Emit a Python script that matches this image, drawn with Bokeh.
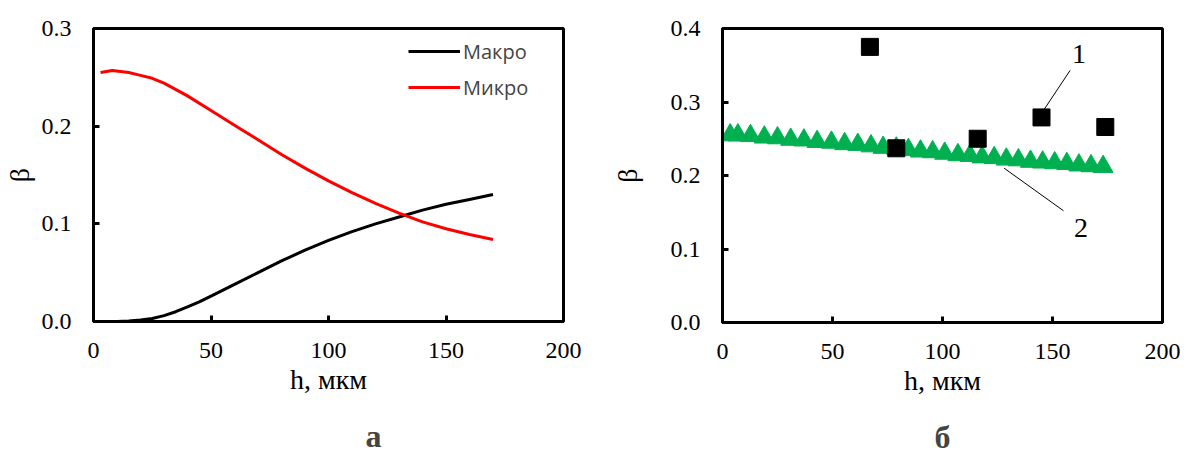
from bokeh.plotting import figure
from bokeh.models import Range1d, BasicTicker, PrintfTickFormatter, Legend, LegendItem, Title
from bokeh.core.properties import value
from bokeh.embed import file_html
from bokeh.resources import INLINE

# ---- panel a data ----
makro_x = [3, 10, 15, 20, 25, 30, 35, 40, 45, 50, 60, 70, 80, 90, 100, 110, 120, 130, 140, 150, 160, 170]
makro_y = [0, 0, 0.0005, 0.0015, 0.003, 0.006, 0.010, 0.015, 0.020, 0.026, 0.038, 0.050, 0.062, 0.073,
           0.083, 0.092, 0.100, 0.107, 0.114, 0.120, 0.125, 0.130]
mikro_x = [3, 8, 15, 20, 25, 30, 40, 50, 60, 70, 80, 90, 100, 110, 120, 130, 140, 150, 160, 170]
mikro_y = [0.255, 0.257, 0.255, 0.252, 0.249, 0.244, 0.231, 0.216, 0.201, 0.186, 0.171, 0.157, 0.144,
           0.132, 0.121, 0.111, 0.102, 0.095, 0.089, 0.084]

# ---- panel b data ----
exp_x = [67, 79, 116, 145, 174]
exp_y = [0.375, 0.237, 0.250, 0.279, 0.266]
calc_x = [3.5, 7, 12.7, 19, 25, 31, 37, 43, 49.5, 55.5, 61.5, 67.5, 73, 79, 84.5, 90, 95.5, 101, 107, 112.5,
          118, 123.5, 129, 134.5, 140, 145.5, 151, 156.5, 162, 167.5, 173]
calc_y = [0.255, 0.255, 0.254, 0.252, 0.251, 0.249, 0.248, 0.246, 0.245, 0.243, 0.242, 0.240, 0.238, 0.237,
          0.235, 0.233, 0.232, 0.230, 0.228, 0.227, 0.225, 0.224, 0.222, 0.221, 0.219, 0.218, 0.217, 0.216,
          0.214, 0.213, 0.212]

# axis extents and tick settings
x_max = 200
ya_max = 0.3
yb_max = 0.4
tick_count = 4
y_tick_format = "%.1f"

# leader lines and labels for panel b
lead_x0 = [158, 128]
lead_y0 = [0.343, 0.210]
lead_x1 = [146, 155]
lead_y1 = [0.289, 0.152]
lead_text = ["1", "2"]
lead_tx = [162, 163]
lead_ty = [0.365, 0.128]

SERIF = "Liberation Serif"
EPS = 1e-6


def make(ymax, ylab_standoff, **kw):
    p = figure(x_range=Range1d(0, x_max), y_range=Range1d(0, ymax + EPS),
               output_backend="svg", toolbar_location=None, **kw)
    p.grid.visible = False
    p.outline_line_color = "black"
    p.outline_line_width = 3
    p.xaxis.ticker = BasicTicker(desired_num_ticks=tick_count)
    p.yaxis.ticker = BasicTicker(desired_num_ticks=tick_count)
    p.yaxis.formatter = PrintfTickFormatter(format=y_tick_format)
    p.axis.axis_line_width = 3
    p.axis.axis_line_color = "black"
    p.axis.major_tick_in = 6
    p.axis.major_tick_out = 0
    p.axis.major_tick_line_width = 3
    p.axis.minor_tick_line_color = None
    p.axis.major_label_text_font = SERIF
    p.axis.major_label_text_font_size = "24px"
    p.axis.major_label_text_color = "black"
    p.axis.axis_label_text_font = SERIF
    p.axis.axis_label_text_font_size = "28px"
    p.axis.axis_label_text_font_style = "normal"
    p.axis.axis_label_text_color = "black"
    p.xaxis.major_label_standoff = 17
    p.yaxis.major_label_standoff = 18
    p.xaxis.axis_label_standoff = 3
    p.yaxis.axis_label_standoff = ylab_standoff
    p.xaxis.axis_label = "h, мкм"
    p.yaxis.axis_label = "β"
    return p


# ---- panel a ----
pa = make(ya_max, 4, frame_width=470, frame_height=293, min_border_left=93, min_border_right=37,
          min_border_top=28, min_border_bottom=147)
r1 = pa.line(makro_x, makro_y, line_color="black", line_width=3)
r2 = pa.line(mikro_x, mikro_y, line_color="#FF0000", line_width=3)
leg = Legend(items=[LegendItem(label="Макро", renderers=[r1]), LegendItem(label="Микро", renderers=[r2])],
             location=(315, 219), padding=0, margin=0, spacing=6,
             glyph_width=52, glyph_height=30, label_height=30, label_standoff=3,
             label_text_font="Open Sans", label_text_font_size="20px",
             border_line_color=None, background_fill_alpha=0)
pa.add_layout(leg)
pa.add_layout(Title(text="а", align="left", offset=272, standoff=37, text_font=SERIF,
                    text_font_size="32px", text_font_style="bold"), "below")

# ---- panel b ----
pb = make(yb_max, 25, frame_width=440, frame_height=294, min_border_left=122, min_border_right=27,
          min_border_top=28, min_border_bottom=146)
pb.scatter(calc_x, calc_y, marker="triangle", size=20, fill_color="#00B050", line_color="#00B050")
pb.scatter(exp_x, exp_y, marker="square", size=17, fill_color="black", line_color="black")
pb.segment(lead_x0, lead_y0, lead_x1, lead_y1, line_color="black", line_width=1)
pb.text(lead_tx, lead_ty, text=lead_text, text_font=value(SERIF), text_font_size="28px",
        text_align="center", text_baseline="middle", text_color="black")
pb.add_layout(Title(text="б", align="center", standoff=37, text_font=SERIF, text_font_size="32px",
                    text_font_style="bold"), "below")

side_by_side = """
{% block preamble %}
<style>
html, body { margin: 0 !important; padding: 0 !important; }
body { display: flex !important; flex-direction: row !important; align-items: flex-start !important; }
</style>
{% endblock %}
"""

open("out.html", "w").write(file_html([pa, pb], INLINE, template=side_by_side))
